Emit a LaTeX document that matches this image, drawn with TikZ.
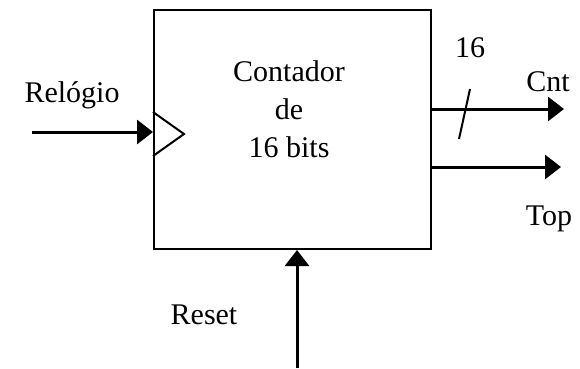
\documentclass[tikz,border=0pt]{standalone}
\usepackage{fontspec}
\setmainfont{Liberation Serif}
\usetikzlibrary{arrows.meta}
\begin{document}
\begin{tikzpicture}[
    x=1pt, y=-1pt,
    every node/.style={font=\fontsize{30}{38}\selectfont, inner sep=0pt},
    block/.style={draw, line width=2pt, minimum width=277pt, minimum height=239pt},
    sig/.style={line width=3pt, -{Triangle[width=24pt,length=16pt]}},
    clk/.style={line width=2pt, line join=miter}
]
\useasboundingbox (0,0) rectangle (580,368);
\node[block] (cnt) at (292.5,129.5) {};
\node[align=center] (ttl) at (289,109) {Contador\\de\\16 bits};
% clock input
\coordinate (clkin) at (32,132);
\draw[sig] (clkin) -- (cnt.west |- clkin);
\draw[clk] (cnt.west |- 0,112) -- (184,134) -- (cnt.west |- 0,156);
\node (rel) at (72,95) {Relógio};
% outputs
\coordinate (cntout) at (564,109);
\coordinate (topout) at (561,167);
\draw[sig] (cnt.east |- cntout) -- (cntout);
\draw[sig] (cnt.east |- topout) -- (topout);
\draw[line width=2pt] (470,89) -- (459,139);
\node (w16) at (470,48) {16};
\node (cntlbl) at (548,82) {Cnt};
\node (toplbl) at (549,219) {Top};
% reset
\coordinate (rstin) at (297,368);
\draw[sig] (rstin) -- (rstin |- cnt.south);
\node (rst) at (204,315) {Reset};
\end{tikzpicture}
\end{document}
